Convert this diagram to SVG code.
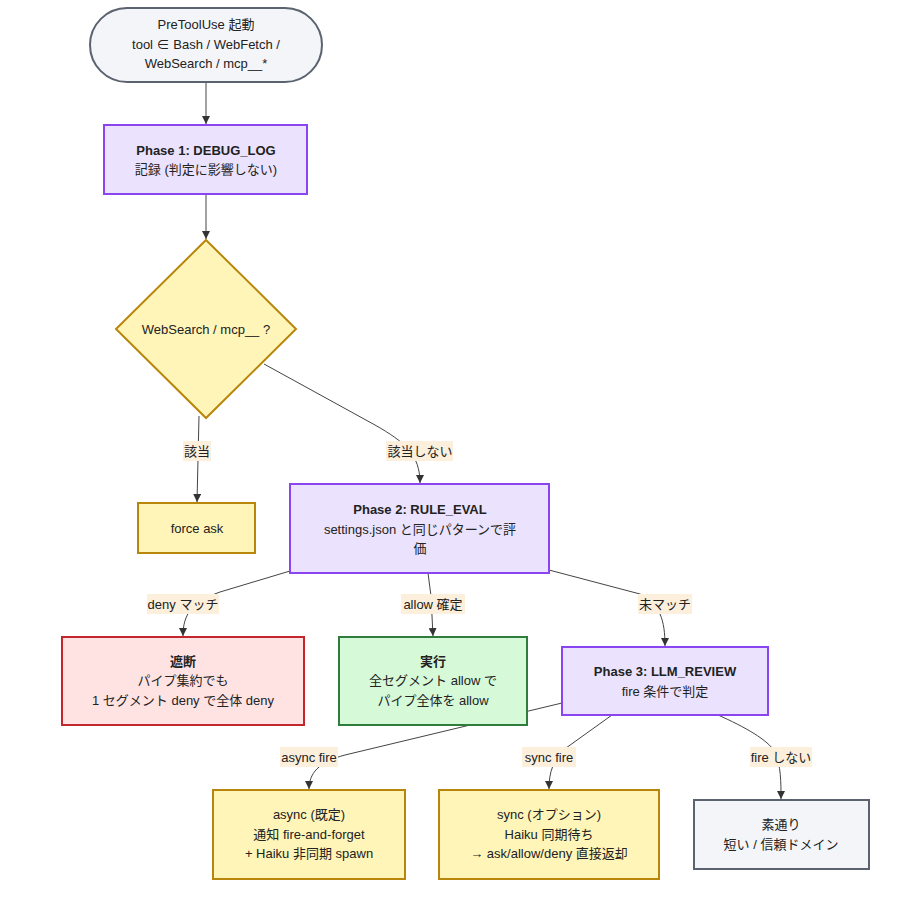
<svg xmlns="http://www.w3.org/2000/svg" width="904" height="900" viewBox="0 0 904 900">
<defs>
<marker id="arr" viewBox="0 0 10 10" refX="10" refY="5" markerWidth="8" markerHeight="8" markerUnits="userSpaceOnUse" orient="auto">
<path d="M0,0 L10,5 L0,10 z" fill="#333"/>
</marker>
<style>
text{font-family:"Liberation Sans","Noto Sans CJK JP",sans-serif;font-size:13px;fill:#222;text-anchor:middle}
.b{font-weight:bold}
.edge{fill:none;stroke:#444;stroke-width:1;marker-end:url(#arr)}
.lbl{fill:#fcefdc}
.phase{fill:#ebe3fd;stroke:#8b45f0;stroke-width:2}
.warn{fill:#fff5b8;stroke:#b8860b;stroke-width:2}
.neutral{fill:#f4f5f9;stroke:#5b6270;stroke-width:2}
.deny{fill:#ffe3e3;stroke:#c1272d;stroke-width:2}
.ok{fill:#d6f9d8;stroke:#2e7d3c;stroke-width:2}
</style>
</defs>
<rect width="904" height="900" fill="#fff"/>
<g id="connectors">
<path class="edge" d="M206,82 L206,124"/>
<path class="edge" d="M206,194 L206,239"/>
<path class="edge" d="M199,416 L197,502"/>
<path class="edge" d="M264,364 L375,425 C405,442 420,455 420,483"/>
<path class="edge" d="M290,571 L220,592 C192,602 183,614 183,636"/>
<path class="edge" d="M428,573 L431,596 L433,636"/>
<path class="edge" d="M549,570 L640,594 C660,604 665,620 665,646"/>
<path class="edge" d="M562,703 L345,755 C318,762 309,774 309,789"/>
<path class="edge" d="M612,715 L566,748 C553,760 549,772 549,789"/>
<path class="edge" d="M718,715 C745,727 768,740 775,752 C781,766 781,782 781,799"/>
</g>
<g id="edge-labels">
<rect class="lbl" x="183" y="441" width="28" height="20"/><text x="197" y="456">該当</text>
<rect class="lbl" x="386" y="441" width="67" height="20"/><text x="420" y="456">該当しない</text>
<rect class="lbl" x="147" y="594" width="72" height="20"/><text x="183" y="609">deny マッチ</text>
<rect class="lbl" x="401" y="594" width="64" height="20"/><text x="433" y="609">allow 確定</text>
<rect class="lbl" x="638" y="594" width="54" height="20"/><text x="665" y="609">未マッチ</text>
<rect class="lbl" x="280" y="747" width="58" height="20"/><text x="309" y="762">async fire</text>
<rect class="lbl" x="522" y="747" width="54" height="20"/><text x="549" y="762">sync fire</text>
<rect class="lbl" x="750" y="747" width="62" height="20"/><text x="781" y="762">fire しない</text>
</g>
<g id="start">
<rect class="neutral" x="90" y="8" width="232" height="74" rx="37" ry="37"/>
<text x="206" y="29">PreToolUse 起動</text>
<text x="206" y="49">tool ∈ Bash / WebFetch /</text>
<text x="206" y="68">WebSearch / mcp__*</text>
</g>
<g id="phase1">
<rect class="phase" x="104" y="125" width="203" height="69"/>
<text class="b" x="206" y="155">Phase 1: DEBUG_LOG</text>
<text x="206" y="174">記録 (判定に影響しない)</text>
</g>
<g id="decision">
<polygon class="warn" points="206,240 296,329 206,418 116,329"/>
<text x="206" y="334">WebSearch / mcp__ ?</text>
</g>
<g id="force-ask">
<rect class="warn" x="138" y="503" width="117" height="50"/>
<text x="197" y="533">force ask</text>
</g>
<g id="phase2">
<rect class="phase" x="290" y="484" width="259" height="89"/>
<text class="b" x="420" y="514">Phase 2: RULE_EVAL</text>
<text x="420" y="534">settings.json と同じパターンで評</text>
<text x="420" y="553">価</text>
</g>
<g id="block">
<rect class="deny" x="62" y="637" width="242" height="88"/>
<text class="b" x="183" y="666">遮断</text>
<text x="183" y="685">パイプ集約でも</text>
<text x="183" y="705">1 セグメント deny で全体 deny</text>
</g>
<g id="exec">
<rect class="ok" x="339" y="637" width="188" height="88"/>
<text class="b" x="433" y="666">実行</text>
<text x="433" y="685">全セグメント allow で</text>
<text x="433" y="705">パイプ全体を allow</text>
</g>
<g id="phase3">
<rect class="phase" x="562" y="647" width="206" height="68"/>
<text class="b" x="665" y="676">Phase 3: LLM_REVIEW</text>
<text x="665" y="696">fire 条件で判定</text>
</g>
<g id="async">
<rect class="warn" x="213" y="790" width="192" height="89"/>
<text x="309" y="819">async (既定)</text>
<text x="309" y="839">通知 fire-and-forget</text>
<text x="309" y="858">+ Haiku 非同期 spawn</text>
</g>
<g id="sync">
<rect class="warn" x="439" y="790" width="220" height="89"/>
<text x="549" y="819">sync (オプション)</text>
<text x="549" y="839">Haiku 同期待ち</text>
<text x="549" y="858">→ ask/allow/deny 直接返却</text>
</g>
<g id="passthru">
<rect class="neutral" x="694" y="800" width="175" height="69"/>
<text x="781" y="829">素通り</text>
<text x="781" y="849">短い / 信頼ドメイン</text>
</g>
</svg>
